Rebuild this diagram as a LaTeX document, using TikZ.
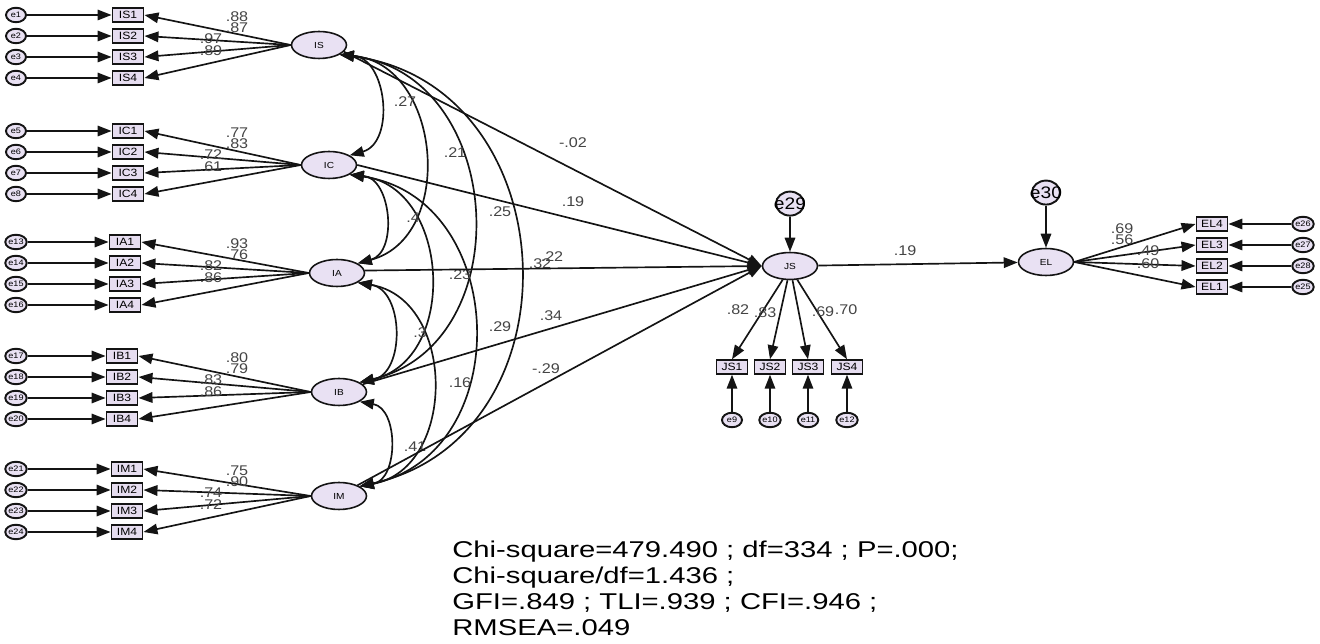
\documentclass[tikz,border=0pt]{standalone}
\usepackage{fontspec}
\setmainfont{Liberation Sans}[FakeStretch=1.15]
\newfontfamily\fitfont{Liberation Sans}[FakeStretch=1.28]
\usetikzlibrary{arrows.meta,positioning,shapes.geometric}
\definecolor{latfill}{HTML}{E9E1F3}
\definecolor{obsfill}{HTML}{E6DDF0}
\definecolor{edge}{HTML}{141414}
\definecolor{numtext}{HTML}{444444}
\begin{document}
\begin{tikzpicture}[x=0.02cm,y=-0.02cm,>={Triangle[length=2.8mm,width=2.1mm]},
 lat/.style={ellipse,draw=edge,line width=0.9pt,fill=latfill,minimum width=1.1cm,
 minimum height=0.54cm,inner sep=0pt,font=\fontsize{5}{5}\selectfont},
 obs/.style={rectangle,draw=edge,line width=1.1pt,fill=obsfill,minimum width=0.62cm,
 minimum height=0.27cm,inner sep=0pt,font=\fontsize{6}{6}\selectfont},
 err/.style={ellipse,draw=edge,line width=1.1pt,fill=latfill,minimum width=0.4cm,
 minimum height=0.29cm,inner sep=0pt,font=\fontsize{4.5}{4.5}\selectfont},
 errbig/.style={err,minimum width=0.56cm,minimum height=0.48cm,font=\fontsize{9.5}{9.5}\selectfont},
 reg/.style={->,line width=0.95pt,draw=edge},
 cov/.style={<->,line width=0.95pt,draw=edge},
 est/.style={font=\fontsize{8}{8}\selectfont,text=numtext,inner sep=0pt}]
\useasboundingbox (0,0) rectangle (1320,644);
% exogenous factors with their indicators
\foreach \f/\cx/\cy/\ey/\bx/\en/\la/\lb/\lc/\ld in {IS/319/45/15/128/1/.88/.87/.97/.89,
 IC/329/165/131/128/5/.77/.83/.72/.61, IA/337/273/242/125/13/.93/.76/.82/.86,
 IB/339/392/356/122/17/.80/.79/.83/.86, IM/339/496/469/127/21/.75/.90/.74/.72}{
 \node[lat] (\f) at (\cx,\cy) {\f};
 \foreach \i/\v in {1/\la,2/\lb,3/\lc,4/\ld}{
 \pgfmathtruncatemacro\k{\en+\i-1}
 \pgfmathsetmacro\lx{\i<3 ? 237 : 211}
 \node[obs] (\f\i) at (\bx,{\ey+21*(\i-1)}) {\f\i};
 \node[err] (e\k) at (16,{\ey+21*(\i-1)}) {e\k};
 \draw[reg] (e\k) -- (\f\i);
 \draw[reg] (\f.west) -- (\f\i.east);
 \node[est] (l\f\i) at (\lx,{\ey-10+11.3*\i}) {\v};
 }
}
% covariances
\foreach \a/\b/\loose in {IS/IC/1.2,IS/IA/1.25,IS/IB/1.3,IS/IM/1.36,
 IC/IA/1.2,IC/IB/1.25,IC/IM/1.32,IA/IB/1.2,IA/IM/1.25,IB/IM/1.2}
 \draw[cov] (\a.-25) to[bend left=80,looseness=\loose] (\b.25);
\foreach \n/\x/\y/\t in {cISIC/405/102/.27,cISIA/455/153/.21,cISIB/500/212/.25,
 cISIM/540/264/.32,cICIA/413/218/.4,cICIB/460/275/.23,cICIM/500/327/.29,
 cIAIB/420/333/.3,cIAIM/460/383/.16,cIBIM/415/447/.41}
 \node[est] (\n) at (\x,\y) {\t};
% endogenous part
\node[lat] (JS) at (790,266) {JS};
\node[errbig,above=20pt of JS] (e29) {\makebox[0pt]{e29}};
\draw[reg] (e29) -- (JS);
\foreach \f/\ang in {IS/-15,IC/0,IA/5,IB/18,IM/30}
 \draw[reg] (\f.\ang) -- (JS.west);
\foreach \n/\x/\y/\t in {pIS/573/143/-.02,pIC/573/202/.19,pIA/552/257/.22,
 pIB/551/316/.34,pIM/546/369/-.29}
 \node[est] (\n) at (\x,\y) {\t};
\foreach \i/\x/\ang/\v in {1/732/-118/.82,2/770/-100/.83,3/808/-80/.69,4/847/-62/.70}{
 \pgfmathtruncatemacro\k{8+\i}
 \node[obs] (JS\i) at (\x,367) {JS\i};
 \node[err] (e\k) at (\x,420) {e\k};
 \draw[reg] (JS.\ang) -- (JS\i.north);
 \draw[reg] (e\k) -- (JS\i);
}
\foreach \i/\x/\y/\v in {1/738/310/.82,2/765/313/.83,3/823/312/.69,4/846/310/.70}
 \node[est] (lJS\i) at (\x,\y) {\v};
\node[lat] (EL) at (1046,262) {EL};
\node[errbig,above=24pt of EL] (e30) {\makebox[0pt]{e30}};
\draw[reg] (e30) -- (EL);
\draw[reg] (JS) -- (EL);
\node[est] (pJS) at (905,251) {.19};
\foreach \i/\y/\k/\x/\ly/\v in {4/224/26/1122/229/.69,3/245/27/1122/240/.56,
 2/266/28/1148/251/.49,1/287/25/1148/264/.60}{
 \node[obs] (EL\i) at (1212,\y) {EL\i};
 \node[err] (e\k) at (1303,\y) {e\k};
 \draw[reg] (EL.east) -- (EL\i.west);
 \draw[reg] (e\k) -- (EL\i);
 \node[est] (lEL\i) at (\x,\ly) {\v};
}
% fit indices
\node[anchor=north west,align=left,inner sep=0pt,
 font=\fitfont\fontsize{13}{14.8}\selectfont] (fit) at (452,541)
 {Chi-square=479.490 ; df=334 ; P=.000;\\Chi-square/df=1.436 ;\\
 GFI=.849 ; TLI=.939 ; CFI=.946 ;\\RMSEA=.049};
\end{tikzpicture}
\end{document}
